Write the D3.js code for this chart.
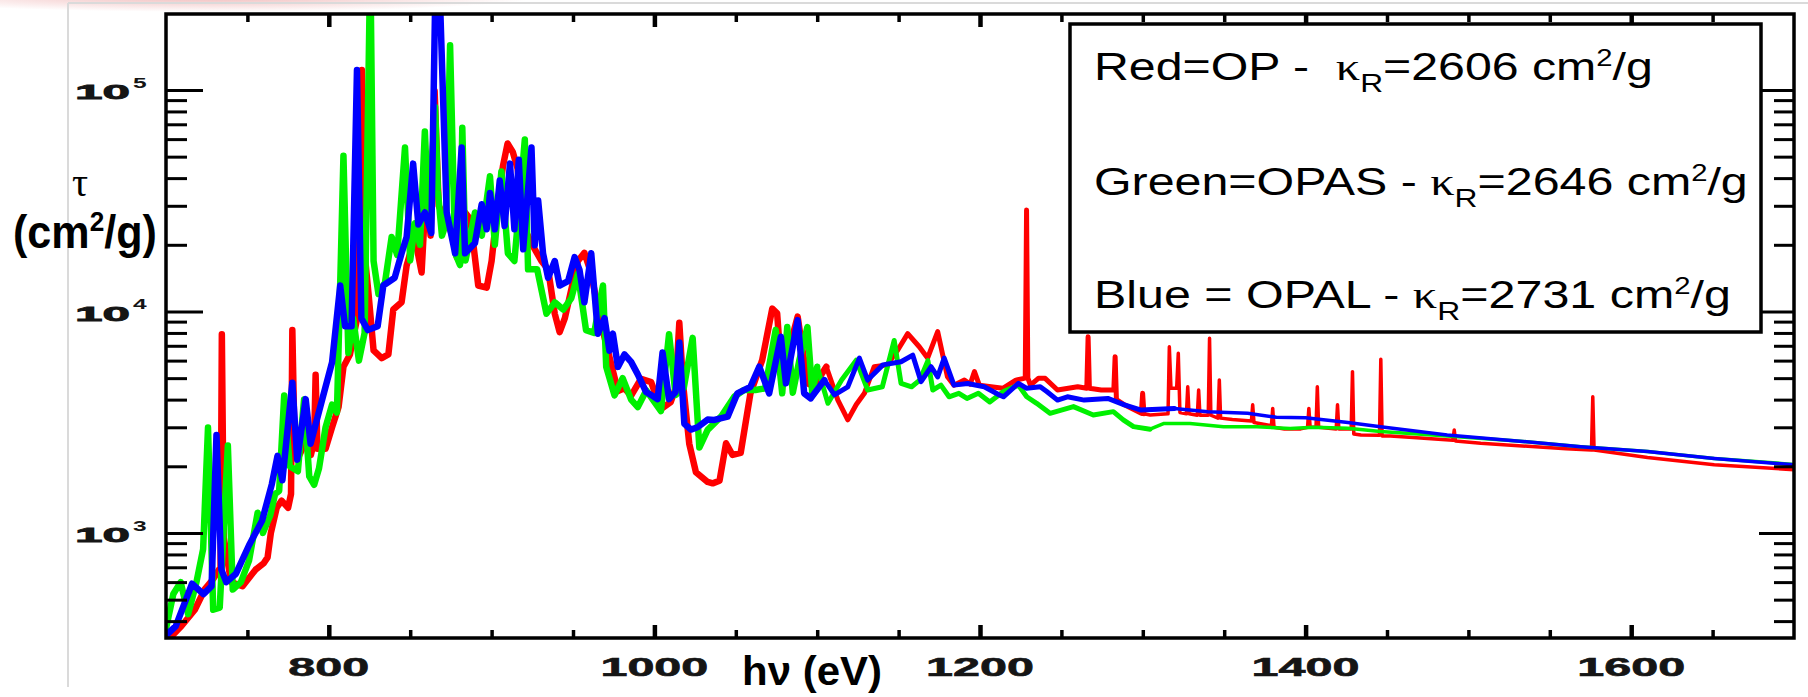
<!DOCTYPE html>
<html><head><meta charset="utf-8">
<script src="https://cdn.jsdelivr.net/npm/d3@7"></script>
<style>html,body{margin:0;padding:0;background:#fff;} svg{display:block}</style>
</head><body>
<svg id="chart" width="1808" height="697"></svg>
<script>
// ---------- DATA (photon energy eV, opacity cm^2/g) ----------
const opRed = [[700,322],[709.5,380],[717.7,450],[724,560],[729,620],[733.5,700],[734.3,7890],[735.5,950],[740,600],[747,575],[755,683],[760,730],[762.4,776],[764.4,1000],[768,1300],[771,1400],[775,1300],[776.8,1500],[777.6,8240],[779,2500],[781.7,2230],[786,2600],[789,2250],[791,2600],[791.9,5180],[793,2400],[798,2400],[802,3000],[806,3700],[809,5630],[813,6400],[817,9000],[819.5,40000],[820.3,123000],[821.5,20000],[824.4,12000],[827.5,6670],[832.5,6160],[836.6,6400],[839.6,10200],[844.7,11000],[847.8,16100],[852.8,21700],[857,15000],[860,39000],[862.5,22000],[865,99000],[867.5,30000],[872,26000],[876,22000],[878.6,17600],[883.7,28000],[887,26000],[891.8,13100],[897,12800],[900,16900],[904,31700],[907,45400],[909.8,57300],[913,52500],[916,44000],[920.4,23500],[925,20000],[930.6,16900],[934.7,15500],[938.8,9770],[941.8,8060],[945,9330],[949,12600],[953,16900],[957,18400],[961,15000],[967,8950],[971.4,6670],[977.6,4370],[981.5,4500],[985.7,4170],[991.8,4970],[998,4800],[1004,3620],[1010,3900],[1013,4500],[1015.3,8900],[1017.5,4800],[1021.4,2530],[1025.5,1880],[1032.7,1700],[1035.8,1675],[1040,1720],[1044,2540],[1048,2250],[1053,2300],[1059,4270],[1066.2,6030],[1072.4,10300],[1075.4,9800],[1078.5,4740],[1081.5,6250],[1088,9480],[1094,4740],[1098,4600],[1105.6,5630],[1112.7,3980],[1118.8,3240],[1124,3800],[1129,4270],[1135,5630],[1143,5740],[1149.5,6700],[1155.6,7940],[1162.7,6930],[1167.8,6160],[1174,8110],[1180,5070],[1184,4650],[1190.4,4900],[1194,4700],[1196.6,5350],[1199.6,4650],[1206.8,4570],[1214,4500],[1222,4900],[1227.8,5000],[1228.6,28700],[1229.4,5000],[1231,4650],[1236,5000],[1240,4990],[1247.6,4420],[1260,4570],[1265.6,4500],[1266.4,7690],[1267.2,4500],[1274.5,4420],[1282.2,4420],[1283,6250],[1283.8,4000],[1288.7,3790],[1299.1,3470],[1299.9,4270],[1300.7,3450],[1304.5,3410],[1315.5,3450],[1316.3,6930],[1317.3,4500],[1320.8,4500],[1321.8,6470],[1322.8,3500],[1326.8,3450],[1327.6,4570],[1328.4,3450],[1333.5,3400],[1334.3,4420],[1335.1,3400],[1340.2,3400],[1341,7570],[1341.8,3400],[1346.2,3300],[1347,4900],[1347.8,3300],[1355,3250],[1366.7,3200],[1367.5,3790],[1368.3,3150],[1379,3050],[1379.8,3650],[1380.6,3000],[1387,2950],[1397,2950],[1401.2,3000],[1402,3650],[1402.8,3000],[1406.4,3000],[1407.2,4570],[1408,3000],[1418.8,2950],[1419.6,3790],[1420.4,2950],[1428,2950],[1428.8,5350],[1429.6,2800],[1434,2770],[1445.4,2760],[1446.2,6080],[1447,2740],[1452,2740],[1466,2700],[1490.5,2620],[1491.3,2920],[1492.1,2600],[1507.6,2540],[1560,2400],[1575.6,2370],[1576.4,4120],[1577.2,2370],[1610,2190],[1651,2030],[1700,1930]];

const opasGreen = [[700,370],[704.5,530],[709,600],[713.6,430],[718.7,600],[722.8,845],[725.8,2990],[729,450],[733,460],[738,2480],[741,555],[746,600],[751,750],[756.3,1235],[759.5,1000],[764,1200],[767,1500],[769.5,1550],[772.6,4180],[776,2000],[781,1900],[784.8,4000],[788,1800],[791,1650],[794,1960],[798,3000],[802,3800],[805,3500],[809,50500],[812,6500],[815,9300],[818.5,6000],[822,8000],[825.5,400000],[827.5,16900],[830.5,12000],[834.5,13500],[838.6,21700],[842,18000],[846.8,55000],[850,17000],[853,25000],[856,20000],[859,65000],[861.5,25000],[865.3,83800],[867,35000],[869.5,22000],[872,25000],[874.5,159000],[877.6,18300],[880.6,16200],[882,67600],[884,17000],[889.8,28000],[894,22000],[899,40800],[902,20000],[906,42800],[910,18300],[914,16900],[917,30000],[920.4,59800],[922.4,15500],[928,15500],[933.7,9770],[938.8,11000],[944,10200],[949,11500],[953,14800],[958,8240],[963,8000],[968.4,13100],[970.4,5630],[975.5,4180],[980.5,5000],[985.7,4000],[989.8,3700],[995,4400],[1004,3550],[1009,7900],[1013,4200],[1018,4500],[1023.5,7600],[1027.6,2430],[1032.7,2920],[1040.9,3350],[1049,4120],[1055,4420],[1062,4420],[1068,4500],[1074.5,8260],[1078.5,4270],[1081.6,8500],[1085,4300],[1089,6000],[1094,8500],[1097,4270],[1100,5630],[1106.6,3850],[1115,4900],[1124,6030],[1131,4420],[1140,4570],[1147.3,7400],[1151.5,4740],[1158,4570],[1163,4900],[1168,6000],[1171,4420],[1176,4650],[1181,4120],[1187,4270],[1192,4050],[1199,4270],[1206,3900],[1214.4,4350],[1223.6,4650],[1228.7,4120],[1234.8,3850],[1243,3470],[1257.4,3720],[1269.6,3410],[1281.9,3530],[1288,3240],[1294.3,3020],[1304.5,2940],[1312.7,3120],[1329,3120],[1349.6,3020],[1370,3020],[1390.5,2960],[1405,3000],[1426,2970],[1446,2870],[1487,2740],[1528,2610],[1569,2450],[1610,2330],[1651,2170],[1700,2040]];

const opalBlue = [[700,345],[706,380],[716,590],[723,530],[728,575],[731,2770],[734,683],[737,600],[743,655],[751,880],[759,1135],[765,1660],[768.5,2230],[771.5,1730],[777.6,4770],[780.6,2140],[785.8,4020],[788.8,2530],[796,4020],[802,5890],[807,13100],[810,8580],[814,8580],[817.3,123000],[820,9300],[824,8240],[830,8580],[833.5,13100],[840.5,14200],[844.7,18300],[847.8,21700],[851.8,46500],[855,24700],[859,28000],[863,22600],[865.5,300000],[868,300000],[872.4,28000],[877.6,18300],[881.6,55000],[883.7,18300],[889.8,20400],[893.9,30500],[897,23500],[899,34300],[902,23500],[905,39000],[908,24300],[911.3,46500],[914,23500],[916.7,48400],[919.4,19100],[924.5,55000],[926.5,19900],[928.6,31700],[931.6,18300],[934.7,14200],[938.8,16900],[941.8,13100],[947,13700],[951,17600],[954,15400],[957,11000],[961.2,18300],[965.3,7940],[969.4,9330],[972.4,6650],[974.5,7940],[977.6,5620],[981.6,6400],[985.7,5920],[989.8,5200],[994.9,4330],[999,4150],[1002,4020],[1005,6530],[1009,4020],[1013,4330],[1015.3,7240],[1018.4,3110],[1022.4,2930],[1026.5,3000],[1032.7,3250],[1036.8,3240],[1045,3350],[1051,4270],[1059,4570],[1064.4,5630],[1070.5,4270],[1077.7,7690],[1080.8,4740],[1088,9140],[1092,4270],[1096,4050],[1104.4,4900],[1110.6,4200],[1118.8,4570],[1125.9,6160],[1131,4900],[1140.3,5740],[1151.5,5930],[1158.7,6350],[1163.8,4820],[1170,5630],[1174,5070],[1178,6160],[1184,4650],[1192.4,4730],[1202.6,4570],[1211.9,4200],[1214.4,4120],[1223.6,4740],[1228.7,4500],[1237,4570],[1241,4350],[1247.6,3980],[1253.7,4120],[1264,3980],[1278.5,4050],[1288.7,3790],[1299,3590],[1319.4,3650],[1339.9,3530],[1364.4,3470],[1382,3330],[1400,3310],[1426,3150],[1446,3020],[1487,2770],[1528,2610],[1569,2450],[1610,2330],[1651,2170],[1700,2030]];

const xTickLabels = [800, 1000, 1200, 1400, 1600];
const yTickExponents = [3, 4, 5];
const legendLines = [
  {pre: "Red=OP -  ", kappaVal: "=2606 cm"},
  {pre: "Green=OPAS - ", kappaVal: "=2646 cm"},
  {pre: "Blue = OPAL - ", kappaVal: "=2731 cm"}
];

// ---------- LAYOUT ----------
const svg = d3.select("#chart");
const L = 166, R = 1794, T = 14, B = 638;
const x = d3.scaleLinear().domain([700, 1700]).range([L, R]);
const y = d3.scaleLog().domain([335.6, 220300]).range([B, T]);
const SANS = "'Liberation Sans', Arial, Helvetica, sans-serif";
const SERIF = "'Liberation Serif', 'Times New Roman', serif";

function fitText(t, left, baseline, width) {
  const bb = t.node().getBBox();
  const s = width / bb.width;
  t.attr("transform", `translate(${left - bb.x * s},${baseline}) scale(${s},1)`);
  return s;
}

// faint pink blob top-left
const defs = svg.append("defs");
const rg = defs.append("radialGradient").attr("id", "pink");
rg.append("stop").attr("offset", "0%").attr("stop-color", "rgb(225,110,110)").attr("stop-opacity", 0.5);
rg.append("stop").attr("offset", "100%").attr("stop-color", "rgb(225,110,110)").attr("stop-opacity", 0);
svg.append("ellipse").attr("cx", 210).attr("cy", -4).attr("rx", 330).attr("ry", 16).attr("fill", "url(#pink)");

// light grey outer frame
svg.append("line").attr("x1", 68).attr("x2", 68).attr("y1", 3).attr("y2", 687).attr("stroke", "#dadada").attr("stroke-width", 2);
svg.append("line").attr("x1", 68).attr("x2", 1808).attr("y1", 3).attr("y2", 3).attr("stroke", "#dadada").attr("stroke-width", 2);

// clip
defs.append("clipPath").attr("id", "plotclip").append("rect").attr("x", L).attr("y", T).attr("width", R - L).attr("height", B - T);

// ---------- LINES ----------
const line = d3.line().x(d => x(d[0])).y(d => y(d[1]));
const segs = [[700, 1100, 6.5], [1100, 1300, 5], [1300, 1700, 3.5]];
const gLines = svg.append("g").attr("clip-path", "url(#plotclip)");
[[opRed, "#ff0000"], [opasGreen, "#00f000"], [opalBlue, "#0000ff"]].forEach(([data, col]) => {
  segs.forEach(([a, b, w]) => {
    let i0 = 0; while (i0 + 1 < data.length && data[i0 + 1][0] <= a) i0++;
    let i1 = data.length - 1; while (i1 - 1 >= 0 && data[i1 - 1][0] >= b) i1--;
    gLines.append("path").datum(data.slice(i0, i1 + 1))
      .attr("d", line).attr("fill", "none").attr("stroke", col)
      .attr("stroke-width", w).attr("stroke-linejoin", "round").attr("stroke-linecap", "round");
  });
});

// ---------- AXES (tick marks) ----------
const xMajor = xTickLabels;
const xMinor = d3.range(750, 1700, 50).filter(v => !xMajor.includes(v));
const yMajor = yTickExponents.map(e => Math.pow(10, e));
const yMinor = [];
[2, 3, 4, 5].forEach(e => { for (let k = 2; k <= 9; k++) { const val = k * Math.pow(10, e - 1); if (val > 336 && val < 220000) yMinor.push(val); } });

function addAxis(gen, transform, sw) {
  const g = svg.append("g").attr("transform", transform).call(gen);
  g.select(".domain").remove();
  g.selectAll(".tick line").attr("stroke", "#000").attr("stroke-width", sw);
  g.selectAll(".tick text").remove();
}
addAxis(d3.axisBottom(x).tickValues(xMajor).tickSize(-13).tickFormat(""), `translate(0,${B})`, 4.5);
addAxis(d3.axisBottom(x).tickValues(xMinor).tickSize(-8).tickFormat(""), `translate(0,${B})`, 3.5);
addAxis(d3.axisTop(x).tickValues(xMajor).tickSize(-13).tickFormat(""), `translate(0,${T})`, 4.5);
addAxis(d3.axisTop(x).tickValues(xMinor).tickSize(-8).tickFormat(""), `translate(0,${T})`, 3.5);
addAxis(d3.axisLeft(y).tickValues(yMajor).tickSize(-37).tickFormat(""), `translate(${L},0)`, 3);
addAxis(d3.axisLeft(y).tickValues(yMinor).tickSize(-21).tickFormat(""), `translate(${L},0)`, 3);
addAxis(d3.axisRight(y).tickValues(yMajor).tickSize(-35).tickFormat(""), `translate(${R},0)`, 3);
addAxis(d3.axisRight(y).tickValues(yMinor).tickSize(-20).tickFormat(""), `translate(${R},0)`, 3);

// frame
svg.append("rect").attr("x", L).attr("y", T).attr("width", R - L).attr("height", B - T)
  .attr("fill", "none").attr("stroke", "#000").attr("stroke-width", 3.5);

// ---------- TICK LABELS ----------
let xs = null;
xTickLabels.forEach(v => {
  const t = svg.append("text").text(v).attr("font-family", SANS).attr("font-weight", "bold")
    .attr("font-size", 25).attr("fill", "#151515").attr("stroke", "#151515").attr("stroke-width", 0.6);
  const bb = t.node().getBBox();
  if (xs === null) xs = 27 / (bb.width / String(v).length);
  const w = bb.width * xs;
  t.attr("transform", `translate(${x(v) - w / 2 - bb.x * xs},676) scale(${xs},1)`);
});
yTickExponents.forEach(e => {
  const ty = y(Math.pow(10, e));
  const t = svg.append("text").text("10").attr("font-family", SANS).attr("font-weight", "bold")
    .attr("font-size", 21).attr("fill", "#151515").attr("stroke", "#151515").attr("stroke-width", 0.8);
  fitText(t, 75, ty + 9.5, 55);
  const te = svg.append("text").text(e).attr("font-family", SANS).attr("font-weight", "bold")
    .attr("font-size", 14).attr("fill", "#151515");
  fitText(te, 133, ty - 2, 14);
});

// ---------- AXIS TITLES ----------
svg.append("text").text("τ").attr("x", 80).attr("y", 196).attr("text-anchor", "middle")
  .attr("font-family", SERIF).attr("font-size", 40).attr("fill", "#000");
const yl = svg.append("text").attr("font-family", SANS).attr("font-weight", "bold").attr("font-size", 46).attr("fill", "#000");
yl.append("tspan").text("(cm");
yl.append("tspan").text("2").attr("font-size", 28).attr("dy", -17);
yl.append("tspan").text("/g)").attr("dy", 17);
fitText(yl, 13, 248, 144);

const xl = svg.append("text").attr("font-family", SANS).attr("font-weight", "bold").attr("font-size", 41).attr("fill", "#000");
xl.append("tspan").text("hν (eV)");
fitText(xl, 742, 685, 140);

// ---------- LEGEND ----------
svg.append("rect").attr("x", 1070).attr("y", 24).attr("width", 691).attr("height", 308)
  .attr("fill", "#fff").attr("stroke", "#000").attr("stroke-width", 3.5);
const legendBase = [80, 195, 308];
const legendWidth = [559, 654, 637];
legendLines.forEach((d, i) => {
  const t = svg.append("text").attr("font-family", SANS).attr("font-size", 38).attr("fill", "#000")
    .style("white-space", "pre");
  t.append("tspan").text(d.pre);
  t.append("tspan").text("κ").attr("font-family", SERIF).attr("font-size", 38);
  t.append("tspan").text("R").attr("font-size", 25).attr("dy", 12);
  t.append("tspan").text(d.kappaVal).attr("dy", -12);
  t.append("tspan").text("2").attr("font-size", 23).attr("dy", -14);
  t.append("tspan").text("/g").attr("dy", 14);
  fitText(t, 1094, legendBase[i], legendWidth[i]);
});
</script>
</body></html>
